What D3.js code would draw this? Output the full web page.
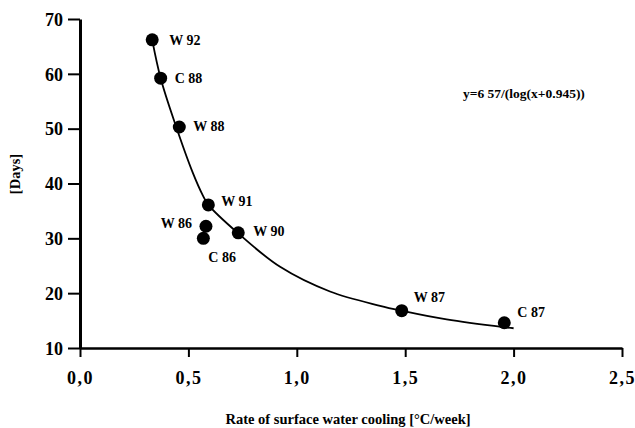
<html>
<head>
<meta charset="utf-8">
<script src="https://cdn.jsdelivr.net/npm/d3@7"></script>
<style>
  body { margin: 0; background: #fff; }
  text { font-family: "Liberation Serif", "Times New Roman", serif; font-weight: bold; fill: #000; }
</style>
</head>
<body>
<div id="chartContainer"></div>
<script>
// observed points (rate of cooling, days)
var rates  = [0.333, 0.372, 0.458, 0.592, 0.581, 0.569, 0.730, 1.484, 1.957];
var days   = [66.2, 59.2, 50.3, 36.1, 32.2, 30.0, 31.0, 16.8, 14.6];
var labels = ["W 92", "C 88", "W 88", "W 91", "W 86", "C 86", "W 90", "W 87", "C 87"];

// fitted curve
var curveX = [0.333, 0.372, 0.438, 0.521, 0.567, 0.592, 0.730, 0.923, 1.153, 1.384, 1.484, 1.691, 1.953, 2.0];
var curveY = [66.2, 59.2, 51.0, 41.9, 37.8, 36.1, 30.9, 24.8, 20.3, 17.7, 16.8, 15.2, 13.8, 13.6];

var xTicks = [0, 0.5, 1.0, 1.5, 2.0, 2.5];
var yTicks = [10, 20, 30, 40, 50, 60, 70];

// label placement relative to each point
var labelPos = [
  {dx: 17, dy: 5, anchor: "start"},
  {dx: 14, dy: 5, anchor: "start"},
  {dx: 14, dy: 4, anchor: "start"},
  {dx: 13, dy: 1, anchor: "start"},
  {dx: -14, dy: 2, anchor: "end"},
  {dx: 5, dy: 24, anchor: "start"},
  {dx: 15, dy: 3, anchor: "start"},
  {dx: 12, dy: -9, anchor: "start"},
  {dx: 13, dy: -6, anchor: "start"}
];

var svg = d3.select("#chartContainer").append("svg")
  .attr("width", 635).attr("height", 428);

var x = d3.scaleLinear().domain([0, 2.5]).range([80, 622]);
var y = d3.scaleLinear().domain([10, 70]).range([348, 19]);

var comma = function (d) { return d3.format(".1f")(d).replace(".", ","); };

// y axis
var yAxis = svg.append("g")
  .attr("transform", "translate(80,0)")
  .call(d3.axisLeft(y).tickValues(yTicks).tickSize(12).tickSizeOuter(0).tickPadding(5));
yAxis.select(".domain").attr("stroke", "#000").attr("stroke-width", 3);
yAxis.selectAll(".tick line").attr("stroke", "#000").attr("stroke-width", 2);
yAxis.selectAll(".tick text").style("font-size", "18px").attr("dy", "0.35em");

// x axis
var xAxis = svg.append("g")
  .attr("transform", "translate(0,348)")
  .call(d3.axisBottom(x).tickValues(xTicks).tickFormat(comma).tickSize(9).tickSizeOuter(0).tickPadding(14));
xAxis.select(".domain").attr("stroke", "#000").attr("stroke-width", 2.5);
xAxis.selectAll(".tick line").attr("stroke", "#000").attr("stroke-width", 2);
xAxis.selectAll(".tick text").style("font-size", "18px").style("letter-spacing", "1.5px");

// axis titles
svg.append("text")
  .attr("x", 348).attr("y", 424)
  .attr("text-anchor", "middle")
  .style("font-size", "14.5px")
  .text("Rate of surface water cooling [°C/week]");

svg.append("text")
  .attr("transform", "translate(20,174) rotate(-90)")
  .attr("text-anchor", "middle")
  .style("font-size", "14.5px")
  .text("[Days]");

// fitted curve
var line = d3.line()
  .x(function (d) { return x(d[0]); })
  .y(function (d) { return y(d[1]); })
  .curve(d3.curveCatmullRom.alpha(0.5));

svg.append("path")
  .datum(d3.zip(curveX, curveY))
  .attr("d", line)
  .attr("fill", "none")
  .attr("stroke", "#000")
  .attr("stroke-width", 1.8);

// points
var pts = d3.range(rates.length);
svg.selectAll("circle.pt")
  .data(pts).enter().append("circle")
  .attr("class", "pt")
  .attr("cx", function (i) { return x(rates[i]); })
  .attr("cy", function (i) { return y(days[i]); })
  .attr("r", 6.5)
  .attr("fill", "#000");

svg.selectAll("text.lbl")
  .data(pts).enter().append("text")
  .attr("class", "lbl")
  .attr("x", function (i) { return x(rates[i]) + labelPos[i].dx; })
  .attr("y", function (i) { return y(days[i]) + labelPos[i].dy; })
  .attr("text-anchor", function (i) { return labelPos[i].anchor; })
  .style("font-size", "14px")
  .text(function (i) { return labels[i]; });

// equation
svg.append("text")
  .attr("x", 463).attr("y", 98)
  .style("font-size", "13.5px")
  .text("y=6 57/(log(x+0.945))");
</script>
</body>
</html>
